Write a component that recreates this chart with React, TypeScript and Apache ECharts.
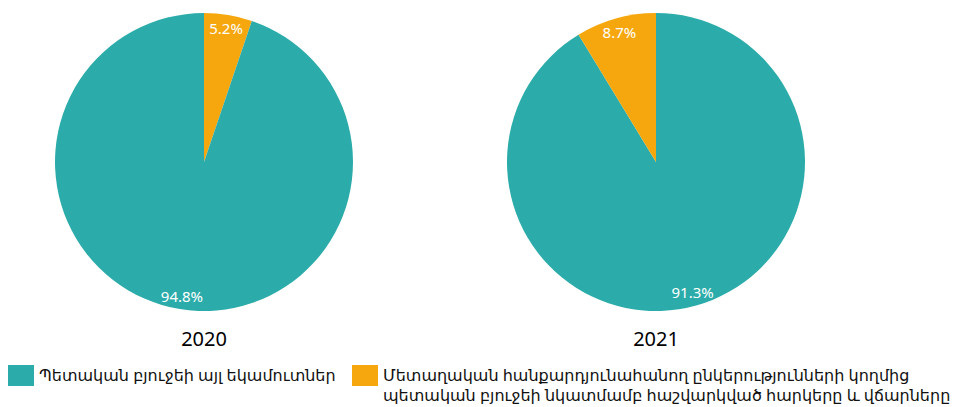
import React, { useEffect, useRef } from "react";
import * as echarts from "echarts";

const categories = [
  "Պետական բյուջեի այլ եկամուտներ",
  "Մետաղական հանքարդյունահանող ընկերությունների կողմից\nպետական բյուջեի նկատմամբ հաշվարկված հարկերը և վճարները",
];
const years = ["2020", "2021"];
const values2020 = [94.8, 5.2];
const values2021 = [91.3, 8.7];
const colors = ["#2BACAA", "#F6A70E"];

const FONT = "'Noto Sans', 'DejaVu Sans', sans-serif";

export default function App() {
  const ref = useRef<HTMLDivElement>(null);
  useEffect(() => {
    document.body.style.margin = "0";
    if (!ref.current) return;
    const chart = echarts.init(ref.current, undefined, { renderer: "svg" });
    const centers = [
      [204, 162],
      [656, 162],
    ];
    const pieData = [
      [
        { name: categories[1], value: values2020[1], itemStyle: { color: colors[1] } },
        { name: categories[0], value: values2020[0], itemStyle: { color: colors[0] } },
      ],
      [
        { name: categories[0], value: values2021[0], itemStyle: { color: colors[0] } },
        { name: categories[1], value: values2021[1], itemStyle: { color: colors[1] } },
      ],
    ];
    const series: any[] = [];
    pieData.forEach((d, i) => {
      series.push({
        type: "pie",
        center: centers[i],
        radius: [0, 149],
        startAngle: 90,
        clockwise: true,
        data: d,
        label: { show: false },
        labelLine: { show: false },
        silent: true,
      });
      series.push({
        type: "pie",
        center: centers[i],
        radius: [116, 149],
        startAngle: 90,
        clockwise: true,
        data: d.map((x) => ({ name: x.name, value: x.value, itemStyle: { color: "rgba(0,0,0,0)" } })),
        label: {
          show: true,
          position: "inside",
          formatter: (p: any) => p.value.toFixed(1) + "%",
          color: "#ffffff",
          fontSize: 15,
          fontFamily: FONT,
        },
        labelLine: { show: false },
        silent: true,
        z: 3,
      });
    });

    const graphic: any[] = [];
    years.forEach((y, i) => {
      graphic.push({
        type: "text",
        x: centers[i][0],
        y: 338,
        style: {
          text: y,
          fontSize: 20,
          fontFamily: FONT,
          fill: "#000",
          align: "center",
          verticalAlign: "middle",
        },
      });
    });
    const legendX = [8, 352];
    categories.forEach((c, i) => {
      graphic.push({
        type: "rect",
        shape: { x: legendX[i], y: 365, width: 26, height: 21 },
        style: { fill: colors[i] },
      });
      graphic.push({
        type: "text",
        x: legendX[i] + 31,
        y: 365,
        style: {
          text: c,
          fontSize: 16,
          lineHeight: 20,
          fontFamily: FONT,
          fill: "#111",
          align: "left",
          verticalAlign: "top",
        },
      });
    });

    chart.setOption({
      animation: false,
      series,
      graphic,
    });
    return () => chart.dispose();
  }, []);
  return <div ref={ref} style={{ width: 960, height: 407 }} />;
}
